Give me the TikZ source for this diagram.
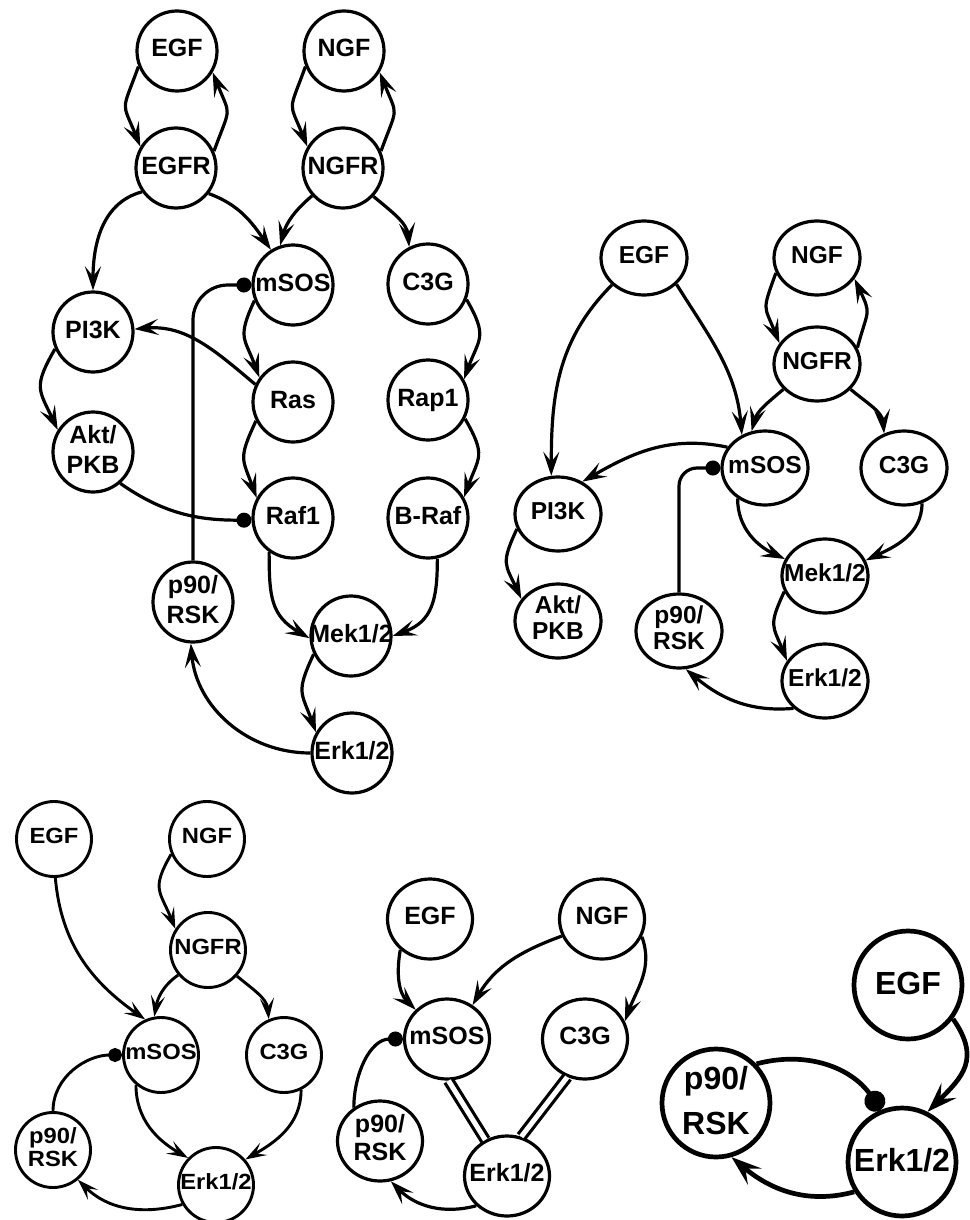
\documentclass[tikz,border=0pt]{standalone}
\usepackage{fontspec}
\setmainfont{Liberation Sans}
\newfontfamily\widesans[FakeStretch=1.08]{Liberation Sans}
\usetikzlibrary{arrows.meta,shapes.geometric}
\newcommand{\ntx}[1]{\makebox[0pt]{\begin{tabular}{@{}c@{}}#1\end{tabular}}}
\begin{document}
\begin{tikzpicture}[x=1pt,y=-1pt,
 c1/.style={circle, draw, line width=3.2pt, minimum size=80pt, inner sep=0pt, font=\bfseries\fontsize{25}{30}\selectfont},
 e2/.style={ellipse, draw, line width=3.2pt, minimum width=86pt, minimum height=74pt, inner sep=0pt, font=\bfseries\fontsize{24.5}{26}\selectfont},
 c3/.style={circle, draw, line width=2.9pt, minimum size=75pt, inner sep=0pt, font=\widesans\bfseries\fontsize{22}{23}\selectfont},
 e4/.style={ellipse, draw, line width=3.2pt, minimum width=85pt, minimum height=80pt, inner sep=0pt, font=\bfseries\fontsize{25}{28}\selectfont},
 c5/.style={circle, draw, line width=4.7pt, minimum size=108pt, inner sep=0pt, font=\bfseries\fontsize{32}{45}\selectfont},
 ar/.style={line width=3.2pt, -{Stealth[length=24pt,width=16pt,inset=10pt]}},
 dt/.style={line width=3.2pt, -{Circle[length=15pt]}},
 ar3/.style={line width=2.9pt, -{Stealth[length=21pt,width=14pt,inset=9pt]}},
 dt3/.style={line width=2.9pt, -{Circle[length=14pt]}},
 dbl/.style={line width=3.2pt, double, double distance=5pt},
 ar5/.style={line width=4.7pt, -{Stealth[length=30pt,width=21pt,inset=12pt]}},
 dt5/.style={line width=4.7pt, -{Circle[length=21pt]}}]
\useasboundingbox (0,0) rectangle (969,1220);

% ---------------- Panel 1 ----------------
\node[c1] (EGF1) at (177,51) {\ntx{EGF}};
\node[c1] (NGF1) at (344,51) {\ntx{NGF}};
\node[c1] (EGFR1) at (176,168) {\ntx{EGFR}};
\node[c1] (NGFR1) at (343,168) {\ntx{NGFR}};
\node[c1] (mSOS1) at (293,285) {\ntx{mSOS}};
\node[c1] (C3G1) at (428,284) {\ntx{C3G}};
\node[c1] (PI3K1) at (93,332) {\ntx{PI3K}};
\node[c1] (Ras1) at (293,402) {\ntx{Ras}};
\node[c1] (Rap11) at (428,400) {\ntx{Rap1}};
\node[c1] (Akt1) at (93,452) {\ntx{Akt/\\PKB}};
\node[c1] (Raf11) at (293,518) {\ntx{Raf1}};
\node[c1] (BRaf1) at (428,518) {\ntx{B-Raf}};
\node[c1] (p901) at (193,602) {\ntx{p90/\\RSK}};
\node[c1] (Mek1) at (351,636) {\ntx{Mek1/2}};
\node[c1] (Erk1) at (352,753) {\ntx{Erk1/2}};

\draw[ar] (EGF1.202) to[out=250,in=112,looseness=1.6] (EGFR1.149);
\draw[ar] (EGFR1.24) to[out=70,in=-68,looseness=1.6] (EGF1.-31);
\draw[ar] (NGF1.202) to[out=250,in=112,looseness=1.6] (NGFR1.149);
\draw[ar] (NGFR1.24) to[out=70,in=-68,looseness=1.6] (NGF1.-31);
\draw[ar] (EGFR1.215) to[out=195,in=90] (PI3K1.90);
\draw[ar] (EGFR1.-38) to[out=-20,in=125] (mSOS1.122);
\draw[ar] (NGFR1.222) to[out=220,in=75] (mSOS1.108);
\draw[ar] (NGFR1.-43) to[out=-40,in=95] (C3G1.117);
\draw[ar] (mSOS1.202) to[out=245,in=110,looseness=1.4] (Ras1.144);
\draw[ar] (Ras1.155) to[out=140,in=5] (PI3K1.4);
\draw[ar] (PI3K1.204) to[out=240,in=115,looseness=1.4] (Akt1.148);
\draw[dt] (Akt1.-49) to[out=-35,in=180] (Raf11.183);
\draw[ar] (Ras1.207) to[out=245,in=110,looseness=1.4] (Raf11.151);
\draw[ar] (C3G1.-22) to[out=-60,in=70,looseness=1.4] (Rap11.30);
\draw[ar] (Rap11.-27) to[out=-60,in=70,looseness=1.4] (BRaf1.30);
\draw[ar] (Raf11.235) to[out=270,in=150,looseness=1.2] (Mek1.183);
\draw[ar] (BRaf1.-77) to[out=270,in=20,looseness=1.2] (Mek1.0);
\draw[ar] (Mek1.206) to[out=245,in=110,looseness=1.4] (Erk1.150);
\draw[ar] (Erk1.180) to[out=180,in=-85] (p901.-93);
\draw[dt,rounded corners=35pt] (p901.north) |- (mSOS1.west);

% ---------------- Panel 2 ----------------
\node[e2] (EGF2) at (644,258) {\ntx{EGF}};
\node[e2] (NGF2) at (817,258) {\ntx{NGF}};
\node[e2] (NGFR2) at (817,364) {\ntx{NGFR}};
\node[e2] (mSOS2) at (765,468) {\ntx{mSOS}};
\node[e2] (C3G2) at (904,468) {\ntx{C3G}};
\node[e2] (PI3K2) at (558,514) {\ntx{PI3K}};
\node[e2] (Mek2) at (825,576) {\ntx{Mek1/2}};
\node[e2] (Akt2) at (558,621) {\ntx{Akt/\\PKB}};
\node[e2] (p902) at (679,631) {\ntx{p90/\\RSK}};
\node[e2] (Erk2) at (825,681) {\ntx{Erk1/2}};

\draw[ar] (EGF2.220) to[out=225,in=90] (PI3K2.100);
\draw[ar] (EGF2.-39) to[out=-58,in=95] (mSOS2.125);
\draw[ar] (NGF2.200) to[out=250,in=112,looseness=1.5] (NGFR2.151);
\draw[ar] (NGFR2.22) to[out=75,in=-65,looseness=1.5] (NGF2.-29);
\draw[ar] (NGFR2.217) to[out=220,in=75] (mSOS2.110);
\draw[ar] (NGFR2.-37) to[out=-40,in=95] (C3G2.120);
\draw[ar] (mSOS2.151) to[out=168,in=30] (PI3K2.53);
\draw[ar] (PI3K2.200) to[out=245,in=115,looseness=1.4] (Akt2.149);
\draw[ar] (mSOS2.228) to[out=270,in=155] (Mek2.157);
\draw[ar] (C3G2.-63) to[out=270,in=25] (Mek2.21);
\draw[ar] (Mek2.201) to[out=245,in=112,looseness=1.4] (Erk2.152);
\draw[ar] (Erk2.221) to[out=185,in=-40] (p902.-80);
\draw[dt,rounded corners=18pt] (p902.north) |- (mSOS2.west);

% ---------------- Panel 3 ----------------
\node[c3] (EGF3) at (54,839) {\ntx{EGF}};
\node[c3] (NGF3) at (207,839) {\ntx{NGF}};
\node[c3] (NGFR3) at (208,950) {\ntx{NGFR}};
\node[c3] (mSOS3) at (161,1055) {\ntx{mSOS}};
\node[c3] (C3G3) at (284,1055) {\ntx{C3G}};
\node[c3] (p903) at (53,1150) {\ntx{p90/\\RSK}};
\node[c3] (Erk3) at (216,1185) {\ntx{Erk1/2}};

\draw[ar3] (EGF3.-88) to[out=-85,in=145] (mSOS3.114);
\draw[ar3] (NGF3.203) to[out=240,in=112,looseness=1.4] (NGFR3.147);
\draw[ar3] (NGFR3.220) to[out=215,in=80] (mSOS3.100);
\draw[ar3] (NGFR3.-42) to[out=-40,in=95] (C3G3.113);
\draw[ar3] (mSOS3.230) to[out=270,in=150] (Erk3.136);
\draw[ar3] (C3G3.-64) to[out=270,in=30] (Erk3.41);
\draw[ar3] (Erk3.210) to[out=195,in=-45] (p903.-50);
\draw[dt3] (p903.90) to[out=90,in=180] (mSOS3.180);

% ---------------- Panel 4 ----------------
\node[e4] (EGF4) at (430,919) {\ntx{EGF}};
\node[e4] (NGF4) at (602,919) {\ntx{NGF}};
\node[e4] (mSOS4) at (447,1039) {\ntx{mSOS}};
\node[e4] (C3G4) at (585,1039) {\ntx{C3G}};
\node[e4] (p904) at (380,1141) {\ntx{p90/\\RSK}};
\node[e4] (Erk4) at (507,1176) {\ntx{Erk1/2}};

\draw[ar] (EGF4.226) to[out=260,in=135] (mSOS4.137);
\draw[ar] (NGF4.203) to[out=200,in=60] (mSOS4.53);
\draw[ar] (NGF4.-24) to[out=-70,in=70] (C3G4.24);
\draw[dbl] (mSOS4.-88) -- (Erk4.121);
\draw[dbl] (C3G4.-115) -- (Erk4.70);
\draw[ar] (Erk4.224) to[out=195,in=-45] (p904.-75);
\draw[dt] (p904.128) to[out=90,in=180] (mSOS4.180);

% ---------------- Panel 5 ----------------
\node[c5] (EGF5) at (908,985) {\ntx{EGF}};
\node[c5] (p905) at (716,1103) {\ntx{p90/\\RSK}};
\node[c5] (Erk5) at (902,1162) {\ntx{Erk1/2}};

\draw[ar5] (EGF5.-37) to[out=-55,in=45,looseness=1.3] (Erk5.63);
\draw[dt5] (p905.44) to[out=15,in=125] (Erk5.112);
\draw[ar5] (Erk5.212) to[out=195,in=-40] (p905.-74);
\end{tikzpicture}
\end{document}
